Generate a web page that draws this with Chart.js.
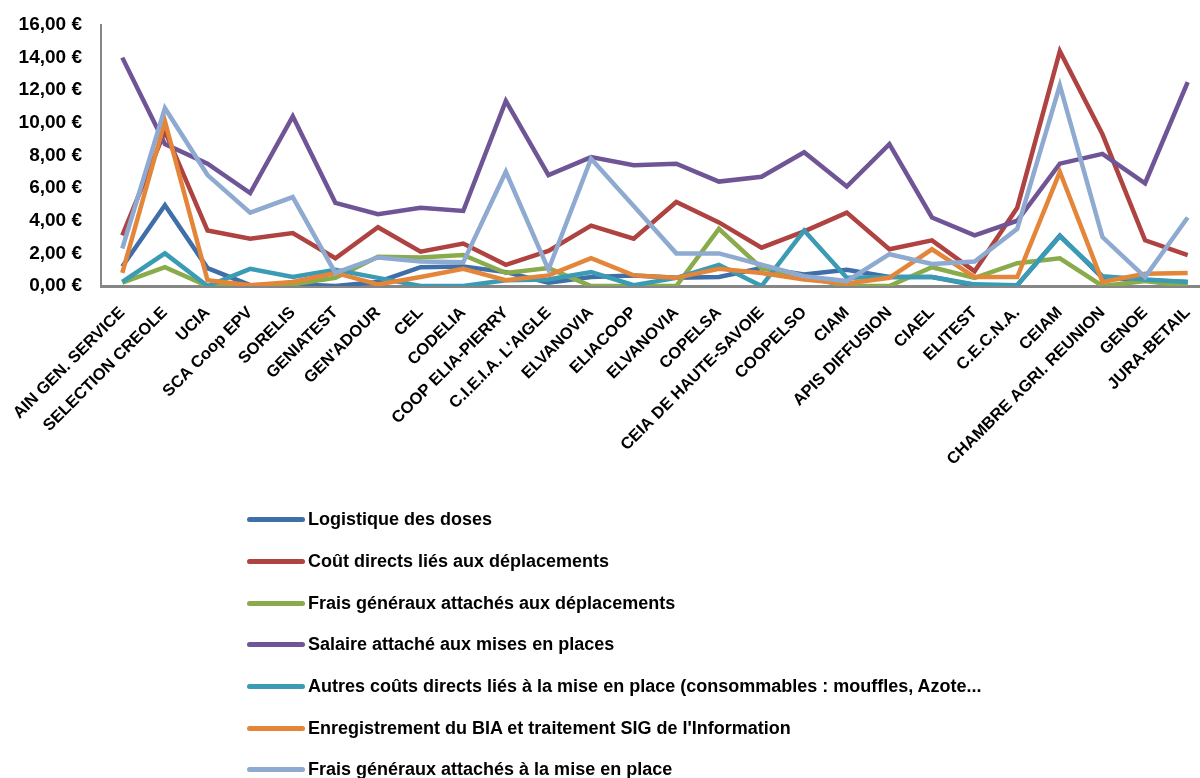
<!DOCTYPE html>
<html>
<head>
<meta charset="utf-8">
<script src="https://cdn.jsdelivr.net/npm/chart.js@4.4.1/dist/chart.umd.min.js"></script>
<style>
  html, body { margin: 0; padding: 0; background: #fff; overflow: hidden; width: 1200px; height: 778px; }
  #wrap { position: absolute; left: 0; top: 0; width: 1215px; height: 500px; }
  #legend { position: absolute; left: 247px; top: 499px; font-family: "Liberation Sans", Arial, sans-serif; font-size: 18px; font-weight: bold; color: #000; }
  .row { position: relative; height: 41.7px; display: flex; align-items: center; white-space: nowrap; }
  .sw { width: 58px; height: 5px; border-radius: 2.5px; margin-right: 3px; }
</style>
</head>
<body>
<div id="wrap"><canvas id="c" width="1215" height="500"></canvas></div>
<div id="legend"></div>
<script>
const categories = ["AIN GEN. SERVICE","SELECTION CREOLE","UCIA","SCA Coop EPV","SORELIS","GENIATEST","GEN'ADOUR","CEL","CODELIA","COOP ELIA-PIERRY","C.I.E.I.A. L'AIGLE","ELVANOVIA","ELIACOOP","ELVANOVIA","COPELSA","CEIA DE HAUTE-SAVOIE","COOPELSO","CIAM","APIS DIFFUSION","CIAEL","ELITEST","C.E.C.N.A.","CEIAM","CHAMBRE AGRI. REUNION","GENOE","JURA-BETAIL"];

const seriesNames = [
  "Logistique des doses",
  "Coût directs liés aux déplacements",
  "Frais généraux attachés aux déplacements",
  "Salaire attaché aux mises en places",
  "Autres coûts directs liés à la mise en place (consommables : mouffles, Azote...",
  "Enregistrement du BIA et traitement SIG de l'Information",
  "Frais généraux attachés à la mise en place"
];

const logistique     = [1.2, 4.95, 1.1, 0.05, 0.1, 0.0, 0.25, 1.15, 1.2, 0.85, 0.2, 0.55, 0.65, 0.5, 0.55, 1.1, 0.7, 1.0, 0.55, 0.55, 0.05, 0.05, 3.1, 0.5, 0.35, 0.25];
const coutsDep       = [3.1, 9.5, 3.4, 2.9, 3.25, 1.7, 3.6, 2.1, 2.6, 1.3, 2.15, 3.7, 2.9, 5.15, 3.9, 2.35, 3.35, 4.5, 2.25, 2.8, 0.9, 4.8, 14.4, 9.3, 2.8, 1.9];
const fraisDep       = [0.2, 1.15, 0.0, 0.0, 0.1, 0.5, 1.8, 1.75, 1.9, 0.8, 1.1, 0.0, 0.0, 0.0, 3.5, 1.1, 0.55, 0.0, 0.0, 1.15, 0.5, 1.4, 1.7, 0.0, 0.3, 0.0];
const salaire        = [14.0, 8.7, 7.5, 5.7, 10.4, 5.1, 4.4, 4.8, 4.6, 11.35, 6.8, 7.9, 7.4, 7.5, 6.4, 6.7, 8.2, 6.1, 8.7, 4.2, 3.1, 4.0, 7.5, 8.1, 6.3, 12.5];
const autresCouts    = [0.25, 2.0, 0.0, 1.05, 0.55, 1.0, 0.5, 0.0, 0.0, 0.35, 0.4, 0.85, 0.05, 0.5, 1.3, 0.0, 3.4, 0.5, 0.55, 0.55, 0.1, 0.05, 3.05, 0.6, 0.4, 0.25];
const enregistrement = [0.8, 10.1, 0.35, 0.05, 0.25, 0.8, 0.1, 0.55, 1.05, 0.35, 0.65, 1.7, 0.65, 0.5, 1.05, 0.8, 0.4, 0.15, 0.5, 2.25, 0.55, 0.55, 7.0, 0.25, 0.75, 0.8];
const fraisMise      = [2.3, 10.9, 6.8, 4.5, 5.45, 0.8, 1.75, 1.5, 1.45, 7.0, 1.0, 7.8, 4.9, 2.0, 2.0, 1.3, 0.6, 0.3, 1.95, 1.35, 1.5, 3.5, 12.3, 3.0, 0.55, 4.2];

const yTickLabels = ["0,00 €","2,00 €","4,00 €","6,00 €","8,00 €","10,00 €","12,00 €","14,00 €","16,00 €"];

const colors = ["#3F6FA8", "#AE4341", "#8AAB4C", "#6F5596", "#3C9BB4", "#E4863A", "#8EAAD1"];
const allSeries = [logistique, coutsDep, fraisDep, salaire, autresCouts, enregistrement, fraisMise];

const datasets = allSeries.map((d, i) => ({
  label: seriesNames[i],
  data: d,
  borderColor: colors[i],
  backgroundColor: colors[i],
  borderWidth: 4.5,
  pointRadius: 0,
  tension: 0,
  fill: false,
  order: 7 - i
}));

const CANVAS_H = 500;
const PLOT_BOTTOM = 286;

new Chart(document.getElementById('c'), {
  type: 'line',
  data: { labels: categories, datasets },
  options: {
    responsive: false,
    animation: false,
    layout: { padding: { top: 25, right: 6, left: 0, bottom: 0 } },
    plugins: { legend: { display: false }, tooltip: { enabled: false } },
    scales: {
      x: {
        offset: true,
        grid: { display: false, drawTicks: false },
        border: { display: true, color: '#868686', width: 3 },
        ticks: {
          autoSkip: false, minRotation: 45, maxRotation: 45, padding: 17,
          color: '#000',
          font: { family: '"Liberation Sans", Arial, sans-serif', size: 16.5, weight: 'bold' }
        },
        afterFit: (s) => { s.height = CANVAS_H - PLOT_BOTTOM; s.paddingLeft = 0; s.paddingRight = 0; }
      },
      y: {
        min: 0, max: 16,
        grid: { display: false, drawTicks: false },
        border: { display: true, color: '#868686', width: 2 },
        ticks: {
          stepSize: 2, padding: 19, color: '#000',
          font: { family: '"Liberation Sans", Arial, sans-serif', size: 19, weight: 'bold' },
          callback: (v) => yTickLabels[Math.round(v / 2)]
        },
        afterFit: (s) => { s.width = 101; s.paddingTop = 0; s.paddingBottom = 0; }
      }
    }
  }
});

const leg = document.getElementById('legend');
seriesNames.forEach((n, i) => {
  const r = document.createElement('div');
  r.className = 'row';
  const sw = document.createElement('div');
  sw.className = 'sw';
  sw.style.background = colors[i];
  const t = document.createElement('span');
  t.textContent = n;
  r.appendChild(sw); r.appendChild(t);
  leg.appendChild(r);
});
</script>
</body>
</html>
